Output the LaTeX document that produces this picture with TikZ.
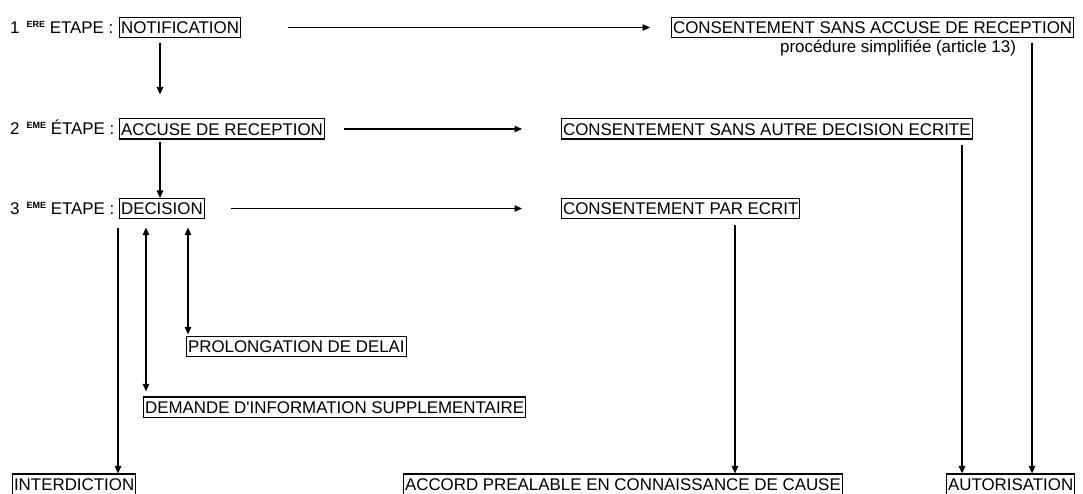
\documentclass[tikz,border=0pt]{standalone}
\usepackage{fontspec}
\setmainfont{Liberation Sans}[Ligatures=TeXOff]
\usetikzlibrary{arrows.meta,calc}
\newcommand\etsup[1]{\raisebox{6pt}{\fontsize{9pt}{9pt}\selectfont\bfseries #1}}
\begin{document}
\begin{tikzpicture}[x=1pt,y=-1pt,
  box/.style={draw, line width=1.1pt, inner xsep=1.5pt, inner ysep=4pt, text height=12.1pt, text depth=0pt, anchor=west, font=\fontsize{16.9pt}{20pt}\selectfont},
  lbl/.style={inner sep=0pt, anchor=base west, font=\fontsize{16.9pt}{20pt}\selectfont},
  arr/.style={line width=1.1pt, -{Triangle[length=7.5pt,width=6.5pt]}},
  darr/.style={line width=1.1pt, {Triangle[length=7.5pt,width=6.5pt]}-{Triangle[length=7.5pt,width=6.5pt]}},
  ln/.style={line width=1.1pt}
]
\useasboundingbox (0,0) rectangle (1083,494);

% step labels
\node[lbl] (step1) at (10,33.5) {1\hspace{7pt}\etsup{ERE} ETAPE :};
\node[lbl] (step2) at (10,135) {2\hspace{7pt}\etsup{EME} ÉTAPE :};
\node[lbl] (step3) at (10,214.5) {3\hspace{7pt}\etsup{EME} ETAPE :};

% boxes
\node[box] (notif) at (119,27.5) {NOTIFICATION};
\node[box] (accuse) at (119,129) {ACCUSE DE RECEPTION};
\node[box] (decision) at (119,208.5) {DECISION};
\node[box] (csar) at (671,27.5) {CONSENTEMENT SANS ACCUSE DE RECEPTION};
\node[lbl] (proc) at (780,53) {procédure simplifiée (article 13)};
\node[box] (csade) at (561,129) {CONSENTEMENT SANS AUTRE DECISION ECRITE};
\node[box] (cpe) at (561,208.5) {CONSENTEMENT PAR ECRIT};
\node[box] (prolong) at (186,346.5) {PROLONGATION DE DELAI};
\node[box] (demande) at (143,407) {DEMANDE D'INFORMATION SUPPLEMENTAIRE};
\node[box] (interd) at (12,484) {INTERDICTION};
\node[box] (accord) at (403,484) {ACCORD PREALABLE EN CONNAISSANCE DE CAUSE\hspace{8pt}};
\node[box] (autor) at (946,484) {AUTORISATION};

% x positions of vertical connectors
\coordinate (xn) at (160,0);
\coordinate (xi) at (118,0);
\coordinate (xd) at (146,0);
\coordinate (xp) at (188,0);
\coordinate (xc) at (735,0);
\coordinate (xs) at (962,0);
\coordinate (xa) at (1032,0);

% horizontal arrows
\draw[arr, shorten <=47pt, shorten >=21pt] (notif.east) -- (csar.west);
\draw[arr, shorten <=19pt, shorten >=39pt] (accuse.east) -- (csade.west);
\draw[arr, shorten <=26pt, shorten >=39pt] (decision.east) -- (cpe.west);

% vertical arrows
\draw[arr, shorten <=4.5pt, shorten >=24pt] (notif.south -| xn) -- (accuse.north -| xn);
\draw[arr, shorten <=2pt] (accuse.south -| xn) -- (decision.north -| xn);
\draw[arr, shorten <=9pt] (decision.south -| xi) -- (interd.north -| xi);
\draw[darr, shorten <=8.5pt, shorten >=5pt] (decision.south -| xd) -- (demande.north -| xd);
\draw[darr, shorten <=8.5pt, shorten >=1.5pt] (decision.south -| xp) -- (prolong.north -| xp);
\draw[arr, shorten <=6pt] (cpe.south -| xc) -- (accord.north -| xc);
\draw[arr, shorten <=5pt] (csade.south -| xs) -- (autor.north -| xs);
\draw[arr, shorten <=4.5pt] (csar.south -| xa) -- (autor.north -| xa);
\end{tikzpicture}
\end{document}
